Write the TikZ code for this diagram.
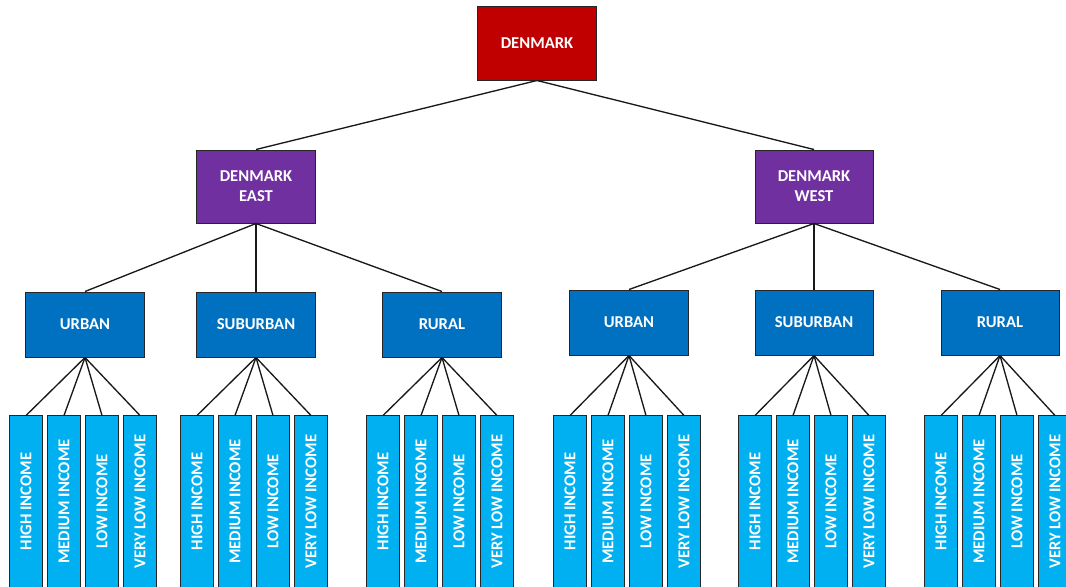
\documentclass[tikz,border=0pt]{standalone}
\usepackage{fontspec}
\setmainfont{Carlito}
\definecolor{dkred}{HTML}{C00000}
\definecolor{plum}{HTML}{7030A0}
\definecolor{midblue}{HTML}{0070C0}
\definecolor{skyblue}{HTML}{00B0F0}
\begin{document}
\begin{tikzpicture}[x=0.025cm,y=-0.025cm,
    box/.style={draw=black!85,line width=0.7pt,text=white,align=center,inner sep=0pt,
      font=\bfseries\fontsize{11.8}{14}\selectfont},
    country/.style={box,fill=dkred,minimum width=2.95cm,minimum height=1.825cm},
    region/.style={box,fill=plum,minimum width=2.95cm,minimum height=1.825cm},
    area/.style={box,fill=midblue,minimum width=2.95cm,minimum height=1.625cm},
    leaf/.style={box,fill=skyblue,rotate=90,minimum width=4.275cm,minimum height=0.825cm},
    link/.style={draw=black!90,line width=0.95pt}]
    \clip (0,0) rectangle (1066,586);
    \node[country] (dk) at (537,43.5) {DENMARK};
    \node[region] (east) at (256,186.5) {DENMARK\\EAST};
    \node[region] (west) at (814,186.5) {DENMARK\\WEST};
    \draw[link] (dk.south) -- (east.north);
    \draw[link] (dk.south) -- (west.north);
    % areas and income groups
    \foreach \p/\r/\cx/\cy/\t in {ue/east/85/324.5/URBAN, se/east/256/324.5/SUBURBAN,
        re/east/442/324.5/RURAL, uw/west/629/322.5/URBAN, sw/west/814/322.5/SUBURBAN,
        rw/west/1000/322.5/RURAL} {
      \node[area] (\p) at (\cx,\cy) {\t};
      \draw[link] (\r.south) -- (\p.north);
      \foreach \i/\s in {1/HIGH INCOME, 2/MEDIUM INCOME, 3/LOW INCOME, 4/VERY LOW INCOME} {
        \node[leaf] (\p\i) at ({\cx-2+38*(\i-2.5)},501.5) {\s};
        \draw[link] (\p.south) -- (\p\i.east);
      }
    }
\end{tikzpicture}
\end{document}
